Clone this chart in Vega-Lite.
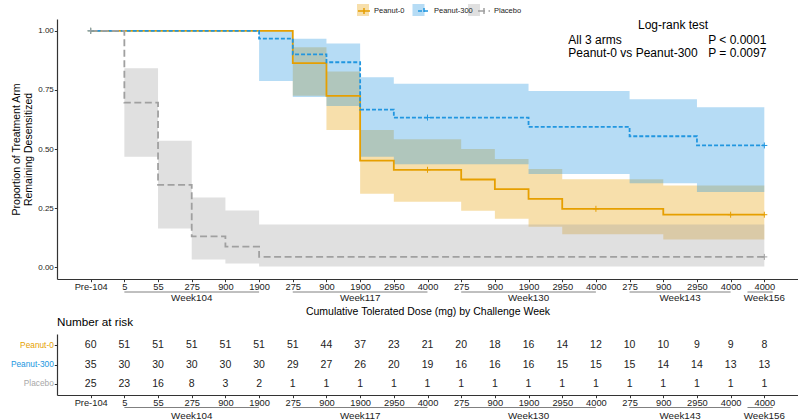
{
  "$schema": "https://vega.github.io/schema/vega-lite/v6.json",
  "background": "white",
  "padding": {"left": 10, "top": 4, "right": 0, "bottom": 0},
  "bounds": "flush",
  "spacing": 55,
  "config": {
    "font": "Liberation Sans",
    "view": {"stroke": null},
    "axis": {
      "grid": false,
      "domainColor": "#333333",
      "domainWidth": 1.2,
      "tickColor": "#333333",
      "tickWidth": 1,
      "tickSize": 2.7,
      "labelColor": "#222222",
      "labelFontSize": 9.3,
      "labelPadding": 1,
      "titleFontWeight": "normal",
      "titleColor": "#000000",
      "titleFontSize": 10.5
    }
  },
  "datasets": {
    "curve": [
      {"arm": "Peanut-0", "x": 0, "surv": 1},
      {"arm": "Peanut-0", "x": 6, "surv": 0.863},
      {"arm": "Peanut-0", "x": 7, "surv": 0.725},
      {"arm": "Peanut-0", "x": 8, "surv": 0.451},
      {"arm": "Peanut-0", "x": 9, "surv": 0.412},
      {"arm": "Peanut-0", "x": 11, "surv": 0.371},
      {"arm": "Peanut-0", "x": 12, "surv": 0.33},
      {"arm": "Peanut-0", "x": 13, "surv": 0.289},
      {"arm": "Peanut-0", "x": 14, "surv": 0.247},
      {"arm": "Peanut-0", "x": 17, "surv": 0.222},
      {"arm": "Peanut-0", "x": 20, "surv": 0.222},
      {"arm": "Peanut-300", "x": 0, "surv": 1},
      {"arm": "Peanut-300", "x": 5, "surv": 0.967},
      {"arm": "Peanut-300", "x": 6, "surv": 0.9},
      {"arm": "Peanut-300", "x": 7, "surv": 0.867},
      {"arm": "Peanut-300", "x": 8, "surv": 0.667},
      {"arm": "Peanut-300", "x": 9, "surv": 0.633},
      {"arm": "Peanut-300", "x": 13, "surv": 0.594},
      {"arm": "Peanut-300", "x": 16, "surv": 0.554},
      {"arm": "Peanut-300", "x": 18, "surv": 0.515},
      {"arm": "Peanut-300", "x": 20, "surv": 0.515},
      {"arm": "Placebo", "x": 0, "surv": 1},
      {"arm": "Placebo", "x": 1, "surv": 0.696},
      {"arm": "Placebo", "x": 2, "surv": 0.348},
      {"arm": "Placebo", "x": 3, "surv": 0.13},
      {"arm": "Placebo", "x": 4, "surv": 0.087},
      {"arm": "Placebo", "x": 5, "surv": 0.0435},
      {"arm": "Placebo", "x": 20, "surv": 0.0435}
    ],
    "ci": [
      {"arm": "Peanut-0", "x": 0, "lo": 1, "hi": 1},
      {"arm": "Peanut-0", "x": 6, "lo": 0.725, "hi": 0.931},
      {"arm": "Peanut-0", "x": 7, "lo": 0.58, "hi": 0.828},
      {"arm": "Peanut-0", "x": 8, "lo": 0.311, "hi": 0.58},
      {"arm": "Peanut-0", "x": 9, "lo": 0.277, "hi": 0.541},
      {"arm": "Peanut-0", "x": 11, "lo": 0.239, "hi": 0.5},
      {"arm": "Peanut-0", "x": 12, "lo": 0.205, "hi": 0.458},
      {"arm": "Peanut-0", "x": 13, "lo": 0.171, "hi": 0.415},
      {"arm": "Peanut-0", "x": 14, "lo": 0.139, "hi": 0.372},
      {"arm": "Peanut-0", "x": 17, "lo": 0.117, "hi": 0.346},
      {"arm": "Peanut-0", "x": 20, "lo": 0.117, "hi": 0.346},
      {"arm": "Peanut-300", "x": 0, "lo": 1, "hi": 1},
      {"arm": "Peanut-300", "x": 5, "lo": 0.788, "hi": 1},
      {"arm": "Peanut-300", "x": 6, "lo": 0.72, "hi": 0.966},
      {"arm": "Peanut-300", "x": 7, "lo": 0.682, "hi": 0.946},
      {"arm": "Peanut-300", "x": 8, "lo": 0.467, "hi": 0.804},
      {"arm": "Peanut-300", "x": 9, "lo": 0.436, "hi": 0.776},
      {"arm": "Peanut-300", "x": 13, "lo": 0.394, "hi": 0.745},
      {"arm": "Peanut-300", "x": 16, "lo": 0.355, "hi": 0.71},
      {"arm": "Peanut-300", "x": 18, "lo": 0.318, "hi": 0.677},
      {"arm": "Peanut-300", "x": 20, "lo": 0.318, "hi": 0.677},
      {"arm": "Placebo", "x": 0, "lo": 1, "hi": 1},
      {"arm": "Placebo", "x": 1, "lo": 0.467, "hi": 0.842},
      {"arm": "Placebo", "x": 2, "lo": 0.164, "hi": 0.535},
      {"arm": "Placebo", "x": 3, "lo": 0.033, "hi": 0.295},
      {"arm": "Placebo", "x": 4, "lo": 0.016, "hi": 0.24},
      {"arm": "Placebo", "x": 5, "lo": 0.003, "hi": 0.181},
      {"arm": "Placebo", "x": 20, "lo": 0.003, "hi": 0.181}
    ],
    "censor": [
      {"arm": "Peanut-0", "x": 0, "surv": 1},
      {"arm": "Peanut-0", "x": 10, "surv": 0.412},
      {"arm": "Peanut-0", "x": 15, "surv": 0.247},
      {"arm": "Peanut-0", "x": 19, "surv": 0.222},
      {"arm": "Peanut-0", "x": 20, "surv": 0.222},
      {"arm": "Peanut-300", "x": 0, "surv": 1},
      {"arm": "Peanut-300", "x": 10, "surv": 0.633},
      {"arm": "Peanut-300", "x": 20, "surv": 0.515},
      {"arm": "Placebo", "x": 0, "surv": 1},
      {"arm": "Placebo", "x": 20, "surv": 0.0435}
    ],
    "weeks": [
      {"week": "Week104", "x1": 1, "x2": 5, "xm": 3},
      {"week": "Week117", "x1": 6, "x2": 10, "xm": 8},
      {"week": "Week130", "x1": 11, "x2": 15, "xm": 13},
      {"week": "Week143", "x1": 16, "x2": 19, "xm": 17.5},
      {"week": "Week156", "x1": 19.5, "x2": 20.25, "xm": 20}
    ],
    "risk": [
      {"arm": "Peanut-0", "x": 0, "n": 60}, {"arm": "Peanut-0", "x": 1, "n": 51}, {"arm": "Peanut-0", "x": 2, "n": 51},
      {"arm": "Peanut-0", "x": 3, "n": 51}, {"arm": "Peanut-0", "x": 4, "n": 51}, {"arm": "Peanut-0", "x": 5, "n": 51},
      {"arm": "Peanut-0", "x": 6, "n": 51}, {"arm": "Peanut-0", "x": 7, "n": 44}, {"arm": "Peanut-0", "x": 8, "n": 37},
      {"arm": "Peanut-0", "x": 9, "n": 23}, {"arm": "Peanut-0", "x": 10, "n": 21}, {"arm": "Peanut-0", "x": 11, "n": 20},
      {"arm": "Peanut-0", "x": 12, "n": 18}, {"arm": "Peanut-0", "x": 13, "n": 16}, {"arm": "Peanut-0", "x": 14, "n": 14},
      {"arm": "Peanut-0", "x": 15, "n": 12}, {"arm": "Peanut-0", "x": 16, "n": 10}, {"arm": "Peanut-0", "x": 17, "n": 10},
      {"arm": "Peanut-0", "x": 18, "n": 9}, {"arm": "Peanut-0", "x": 19, "n": 9}, {"arm": "Peanut-0", "x": 20, "n": 8},
      {"arm": "Peanut-300", "x": 0, "n": 35}, {"arm": "Peanut-300", "x": 1, "n": 30}, {"arm": "Peanut-300", "x": 2, "n": 30},
      {"arm": "Peanut-300", "x": 3, "n": 30}, {"arm": "Peanut-300", "x": 4, "n": 30}, {"arm": "Peanut-300", "x": 5, "n": 30},
      {"arm": "Peanut-300", "x": 6, "n": 29}, {"arm": "Peanut-300", "x": 7, "n": 27}, {"arm": "Peanut-300", "x": 8, "n": 26},
      {"arm": "Peanut-300", "x": 9, "n": 20}, {"arm": "Peanut-300", "x": 10, "n": 19}, {"arm": "Peanut-300", "x": 11, "n": 16},
      {"arm": "Peanut-300", "x": 12, "n": 16}, {"arm": "Peanut-300", "x": 13, "n": 16}, {"arm": "Peanut-300", "x": 14, "n": 15},
      {"arm": "Peanut-300", "x": 15, "n": 15}, {"arm": "Peanut-300", "x": 16, "n": 15}, {"arm": "Peanut-300", "x": 17, "n": 14},
      {"arm": "Peanut-300", "x": 18, "n": 14}, {"arm": "Peanut-300", "x": 19, "n": 13}, {"arm": "Peanut-300", "x": 20, "n": 13},
      {"arm": "Placebo", "x": 0, "n": 25}, {"arm": "Placebo", "x": 1, "n": 23}, {"arm": "Placebo", "x": 2, "n": 16},
      {"arm": "Placebo", "x": 3, "n": 8}, {"arm": "Placebo", "x": 4, "n": 3}, {"arm": "Placebo", "x": 5, "n": 2},
      {"arm": "Placebo", "x": 6, "n": 1}, {"arm": "Placebo", "x": 7, "n": 1}, {"arm": "Placebo", "x": 8, "n": 1},
      {"arm": "Placebo", "x": 9, "n": 1}, {"arm": "Placebo", "x": 10, "n": 1}, {"arm": "Placebo", "x": 11, "n": 1},
      {"arm": "Placebo", "x": 12, "n": 1}, {"arm": "Placebo", "x": 13, "n": 1}, {"arm": "Placebo", "x": 14, "n": 1},
      {"arm": "Placebo", "x": 15, "n": 1}, {"arm": "Placebo", "x": 16, "n": 1}, {"arm": "Placebo", "x": 17, "n": 1},
      {"arm": "Placebo", "x": 18, "n": 1}, {"arm": "Placebo", "x": 19, "n": 1}, {"arm": "Placebo", "x": 20, "n": 1}
    ]
  },
  "vconcat": [
    {
      "width": 741,
      "height": 260,
      "layer": [
        {
          "data": {"name": "ci"},
          "mark": {"type": "area", "interpolate": "step-after", "fillOpacity": 0.33},
          "encoding": {
            "x": {"field": "x", "type": "quantitative",
              "scale": {"domain": [-1, 21], "nice": false, "zero": false},
              "axis": {
                "values": [0,1,2,3,4,5,6,7,8,9,10,11,12,13,14,15,16,17,18,19,20],
                "tickCount": 40,
                "labelExpr": "['Pre-104','5','55','275','900','1900','275','900','1900','2950','4000','275','900','1900','2950','4000','275','900','2950','4000','4000'][datum.value]",
                "labelOverlap": false, "labelFlush": false, "labelBound": false,
                "title": "Cumulative Tolerated Dose (mg) by Challenge Week",
                "titlePadding": 14
              }},
            "y": {"field": "lo", "type": "quantitative", "stack": null,
              "scale": {"domain": [-0.05, 1.05], "nice": false, "zero": false},
              "axis": {
                "values": [0, 0.25, 0.5, 0.75, 1],
                "format": ".2f",
                "labelFontSize": 8,
                "title": ["Proportion of Treatment Arm", "Remaining Desensitized"],
                "titlePadding": 4,
                "titleLineHeight": 12.5
              }},
            "y2": {"field": "hi"},
            "fill": {"field": "arm", "type": "nominal",
              "scale": {"range": ["#E69F00", "#2196E0", "#A0A0A0"]},
              "legend": {
                "orient": "none", "legendX": 300, "legendY": -15, "direction": "horizontal",
                "title": null, "symbolType": "square", "symbolSize": 144, "symbolOpacity": 0.33,
                "symbolStrokeWidth": 0, "labelFontSize": 7.5, "labelExpr": "''",
                "labelOffset": 3, "gridAlign": "all", "columnPadding": 40.5
              }}
          }
        },
        {
          "data": {"name": "curve"},
          "mark": {"type": "line", "interpolate": "step-after", "strokeWidth": 1.8},
          "encoding": {
            "x": {"field": "x", "type": "quantitative"},
            "y": {"field": "surv", "type": "quantitative"},
            "stroke": {"field": "arm", "type": "nominal",
              "scale": {"domain": ["Peanut-0", "Peanut-300", "Placebo"], "range": ["#E69F00", "#2196E0", "#A0A0A0"]},
              "legend": {
                "orient": "none", "legendX": 300, "legendY": -15, "direction": "horizontal",
                "title": null, "symbolType": "M-1,0H1M0,-0.5V0.5", "symbolSize": 144,
                "symbolStrokeWidth": 1.5, "symbolFillColor": "transparent",
                "labelFontSize": 7.5, "labelColor": "#222222",
                "labelOffset": 3, "gridAlign": "all", "columnPadding": 2
              }},
            "strokeDash": {"field": "arm", "type": "nominal",
              "scale": {"domain": ["Peanut-0", "Peanut-300", "Placebo"], "range": [[1, 0], [4, 2], [7, 3.5]]},
              "legend": null}
          }
        },
        {
          "data": {"name": "censor"},
          "mark": {"type": "point", "shape": "M-1,0H1M0,-1V1", "filled": false, "strokeWidth": 1, "size": 36, "opacity": 1},
          "encoding": {
            "x": {"field": "x", "type": "quantitative"},
            "y": {"field": "surv", "type": "quantitative"},
            "stroke": {"field": "arm", "type": "nominal"}
          }
        },
        {
          "data": {"name": "weeks"},
          "mark": {"type": "rule", "color": "#808080", "strokeWidth": 1},
          "encoding": {
            "x": {"field": "x1", "type": "quantitative"},
            "x2": {"field": "x2"},
            "y": {"datum": -0.105}
          }
        },
        {
          "data": {"name": "weeks"},
          "mark": {"type": "text", "fontSize": 9.8, "baseline": "middle", "color": "#222222"},
          "encoding": {
            "x": {"field": "xm", "type": "quantitative"},
            "y": {"datum": -0.131},
            "text": {"field": "week"}
          }
        },
        {
          "data": {"values": [{"t": "Log-rank test"}]},
          "mark": {"type": "text", "fontSize": 12, "align": "center", "baseline": "middle", "color": "#000000"},
          "encoding": {"x": {"datum": 17.29}, "y": {"datum": 1.025}, "text": {"field": "t"}}
        },
        {
          "data": {"values": [{"t": "All 3 arms"}]},
          "mark": {"type": "text", "fontSize": 12, "align": "left", "baseline": "middle", "color": "#000000"},
          "encoding": {"x": {"datum": 14.18}, "y": {"datum": 0.962}, "text": {"field": "t"}}
        },
        {
          "data": {"values": [{"t": "Peanut-0 vs Peanut-300"}]},
          "mark": {"type": "text", "fontSize": 12, "align": "left", "baseline": "middle", "color": "#000000"},
          "encoding": {"x": {"datum": 14.18}, "y": {"datum": 0.905}, "text": {"field": "t"}}
        },
        {
          "data": {"values": [{"t": "P < 0.0001"}]},
          "mark": {"type": "text", "fontSize": 12, "align": "right", "baseline": "middle", "color": "#000000"},
          "encoding": {"x": {"datum": 20.06}, "y": {"datum": 0.962}, "text": {"field": "t"}}
        },
        {
          "data": {"values": [{"t": "P = 0.0097"}]},
          "mark": {"type": "text", "fontSize": 12, "align": "right", "baseline": "middle", "color": "#000000"},
          "encoding": {"x": {"datum": 20.06}, "y": {"datum": 0.905}, "text": {"field": "t"}}
        }
      ]
    },
    {
      "width": 741,
      "height": 61,
      "title": {"text": "Number at risk", "anchor": "start", "frame": "group", "fontSize": 11.7, "fontWeight": "normal", "offset": 5, "color": "#000000"},
      "layer": [
        {
          "data": {"name": "risk"},
          "mark": {"type": "text", "fontSize": 10.5, "color": "#222222", "baseline": "middle"},
          "encoding": {
            "x": {"field": "x", "type": "quantitative",
              "scale": {"domain": [-1, 21], "nice": false, "zero": false},
              "axis": {
                "values": [0,1,2,3,4,5,6,7,8,9,10,11,12,13,14,15,16,17,18,19,20],
                "tickCount": 40,
                "labelExpr": "['Pre-104','5','55','275','900','1900','275','900','1900','2950','4000','275','900','1900','2950','4000','275','900','2950','4000','4000'][datum.value]",
                "labelOverlap": false, "labelFlush": false, "labelBound": false,
                "title": null
              }},
            "y": {"field": "arm", "type": "ordinal",
              "scale": {"type": "point", "padding": 0.6, "domain": ["Peanut-0", "Peanut-300", "Placebo"]},
              "axis": {
                "title": null, "labelFontSize": 8.3,
                "labelColor": {"condition": [
                  {"test": "datum.value === 'Peanut-0'", "value": "#E69F00"},
                  {"test": "datum.value === 'Peanut-300'", "value": "#2196E0"}
                ], "value": "#A8A8A8"}
              }},
            "text": {"field": "n", "type": "quantitative"}
          }
        },
        {
          "data": {"name": "weeks"},
          "mark": {"type": "rule", "color": "#808080", "strokeWidth": 1},
          "encoding": {
            "x": {"field": "x1", "type": "quantitative"},
            "x2": {"field": "x2"},
            "y": {"datum": -0.205, "type": "quantitative", "scale": {"domain": [0, 1], "nice": false, "zero": false}, "axis": null}
          }
        },
        {
          "data": {"name": "weeks"},
          "mark": {"type": "text", "fontSize": 9.8, "baseline": "middle", "color": "#222222"},
          "encoding": {
            "x": {"field": "xm", "type": "quantitative"},
            "y": {"datum": -0.34, "type": "quantitative", "scale": {"domain": [0, 1], "nice": false, "zero": false}, "axis": null},
            "text": {"field": "week"}
          }
        }
      ],
      "resolve": {"scale": {"y": "independent"}, "axis": {"y": "independent"}}
    }
  ]
}
